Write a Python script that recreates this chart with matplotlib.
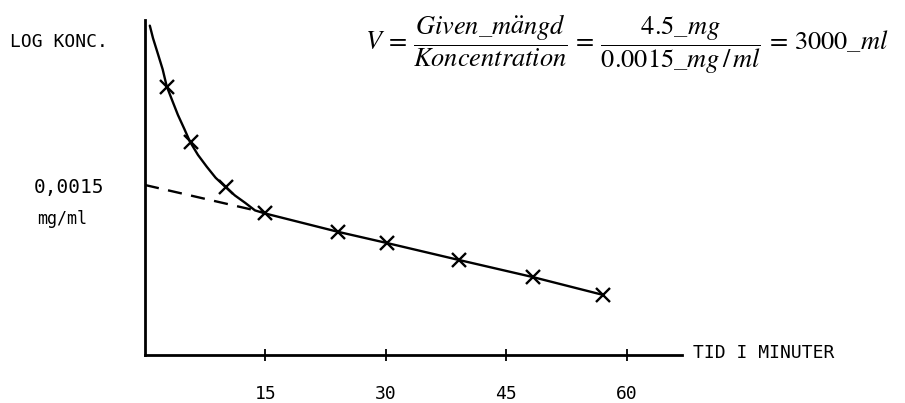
import matplotlib
matplotlib.use("Agg")
from matplotlib import pyplot as plt
from matplotlib.ticker import NullLocator

plt.rcParams['mathtext.fontset'] = 'stix'

# measured points (minutes, mg/ml)
t_obs = [2.7, 5.7, 10.1, 15, 24, 30.1, 39.1, 48.3, 57.1]
c_obs = [0.00462, 0.00247, 0.00147, 0.00109, 0.000876, 0.00077, 0.000633, 0.00052, 0.000423]

# hand drawn curve
t_curve = [0.6, 1.0, 1.6, 2.2, 2.7, 3.4, 4.1, 4.9, 5.6, 6.6, 7.7, 8.8, 10.0,
           11.2, 12.5, 13.7, 15, 24, 30.1, 39.1, 48.3, 57.1]
c_curve = [0.00939, 0.00812, 0.0068, 0.00568, 0.00468, 0.00396, 0.00336, 0.00286,
           0.00247, 0.00212, 0.00185, 0.00163, 0.00147, 0.00133, 0.00122, 0.00112,
           0.00108, 0.000876, 0.00077, 0.000633, 0.00052, 0.000423]

# back-extrapolated terminal phase
t_dash = [0, 15]
c_dash = [0.0015, 0.00109]

x_ticks = [15, 30, 45, 60]
c0_label = "0,0015"

mono = 'DejaVu Sans Mono'

fig = plt.figure(figsize=(9.05, 4.03), dpi=100)
ax = fig.add_axes([145/905, 48/403, 537/905, 335/403])

ax.plot(t_curve, c_curve, color='black', lw=1.7, solid_capstyle='round', solid_joinstyle='round')
ax.plot(t_dash, c_dash, color='black', lw=1.7, dashes=(6, 4))
ax.plot(t_obs, c_obs, linestyle='none', marker='x', color='black', markersize=10, mew=1.7)

ax.set_yscale('log')
ax.set_xlim(0, 66.9)
ax.set_ylim(0.000212, 0.01002)

for s in ['top', 'right']:
    ax.spines[s].set_visible(False)
for s in ['left', 'bottom']:
    ax.spines[s].set_linewidth(2)

ax.set_xticks(x_ticks)
ax.set_xticklabels([str(v) for v in x_ticks], fontfamily=mono, fontsize=13)
ax.tick_params(axis='x', direction='inout', length=9, width=1.3, pad=17)
ax.yaxis.set_major_locator(NullLocator())
ax.yaxis.set_minor_locator(NullLocator())

fig.text(10/905, 1 - 42/403, "LOG KONC.", fontfamily=mono, fontsize=13, va='center', ha='left')
fig.text(104/905, 1 - 188/403, c0_label, fontfamily=mono, fontsize=14, va='center', ha='right')
fig.text(62/905, 1 - 219/403, "mg/ml", fontfamily=mono, fontsize=12, va='center', ha='center')
fig.text(693/905, 1 - 353/403, "TID I MINUTER", fontfamily=mono, fontsize=13, va='center', ha='left')

formula = (r"$V\,=\,\dfrac{Given\_m\ddot{a}ngd}{Koncentration}\,"
           r"=\,\dfrac{4.5\_mg}{0.0015\_mg\,/\,ml}\,=\,3000\_ml$")
fig.text(365/905, 1 - 44/403, formula, fontsize=19, va='center', ha='left')

fig.savefig('out.png', dpi=100)
